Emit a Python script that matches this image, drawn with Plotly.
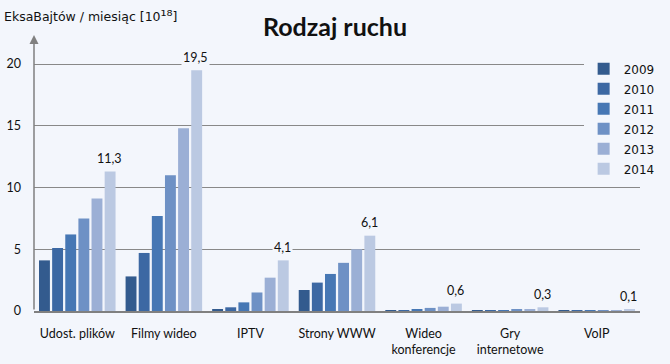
import plotly.graph_objects as go

categories = ["Udost. plików", "Filmy wideo", "IPTV", "Strony WWW",
              "Wideo<br>konferencje", "Gry<br>internetowe", "VoIP"]
years = ["2009", "2010", "2011", "2012", "2013", "2014"]
v2009 = [4.1, 2.8, 0.1, 1.7, 0.06, 0.05, 0.05]
v2010 = [5.1, 4.7, 0.3, 2.3, 0.06, 0.05, 0.05]
v2011 = [6.2, 7.7, 0.7, 3.0, 0.12, 0.05, 0.05]
v2012 = [7.5, 11.0, 1.5, 3.9, 0.25, 0.15, 0.05]
v2013 = [9.1, 14.8, 2.7, 5.0, 0.35, 0.15, 0.07]
v2014 = [11.3, 19.5, 4.1, 6.1, 0.6, 0.3, 0.1]
label_text = ["11,3", "19,5", "4,1", "6,1", "0,6", "0,3", "0,1"]
colors = ["#335b8e", "#3c68a3", "#4677b4", "#6e91c5", "#9bafd5", "#bbc9e2"]

series = [v2009, v2010, v2011, v2012, v2013, v2014]
bg = "#f3f6fc"
font = "Lato, 'Open Sans', sans-serif"
dfont = "'DejaVu Sans', Verdana, sans-serif"

fig = go.Figure()
for y, vals, c in zip(years, series, colors):
    fig.add_trace(go.Bar(x=categories, y=vals, name=y, marker_color=c,
                         marker_line_width=0, legendgroup=y))

annotations = []
for cat, val, txt in zip(categories, v2014, label_text):
    annotations.append(dict(x=cat, y=val, xref="x", yref="y", text=txt,
                            showarrow=False, xshift=32, yshift=13,
                            bgcolor=bg, borderpad=1,
                            font=dict(family=font, size=12.5, color="#111")))
annotations.append(dict(x=0, y=1, xref="x domain", yref="y domain",
                        ax=0, ay=0, axref="x domain", ayref="y domain",
                        showarrow=True, arrowhead=2, arrowsize=1.2,
                        arrowwidth=1.5, arrowcolor="#808080", text=""))
annotations.append(dict(x=-0.052, y=1.0, xref="paper", yref="paper",
                        xanchor="left", yanchor="bottom", yshift=8,
                        text="EksaBajtów / miesiąc [10<span style='font-size:15px'>¹⁸</span>]",
                        showarrow=False,
                        font=dict(family=dfont, size=12.5, color="#111")))

fig.update_layout(
    width=670, height=364,
    margin=dict(l=34, r=30, t=35, b=53, autoexpand=False),
    paper_bgcolor=bg, plot_bgcolor=bg,
    barmode="group", bargap=0.09, bargroupgap=0.17,
    title=dict(text="<b>Rodzaj ruchu</b>", x=0.5, xanchor="center",
               y=0.925, yanchor="middle",
               font=dict(family=font, size=25, color="#111")),
    font=dict(family=font, size=12, color="#111"),
    legend=dict(x=0.907, y=0.93, xanchor="left", yanchor="top",
                bgcolor=bg, font=dict(family=dfont, size=12, color="#111"),
                itemwidth=30, tracegroupgap=1,
                traceorder="grouped"),
    annotations=annotations,
    showlegend=True,
)
fig.update_xaxes(showline=True, linecolor="#808080", linewidth=1.5,
                 ticks="", showgrid=False, range=[-0.5, 6.5],
                 ticklabelstandoff=10, automargin=False,
                 tickfont=dict(family=font, size=12.5, color="#111"))
fig.update_yaxes(range=[0, 22.35], tickvals=[0, 5, 10, 15, 20],
                 showgrid=True, gridcolor="#888888", gridwidth=1,
                 showline=False, zeroline=False, ticks="",
                 ticklabelstandoff=12, automargin=False,
                 tickfont=dict(family=font, size=12.5, color="#111"))

fig.write_html("out.html")
